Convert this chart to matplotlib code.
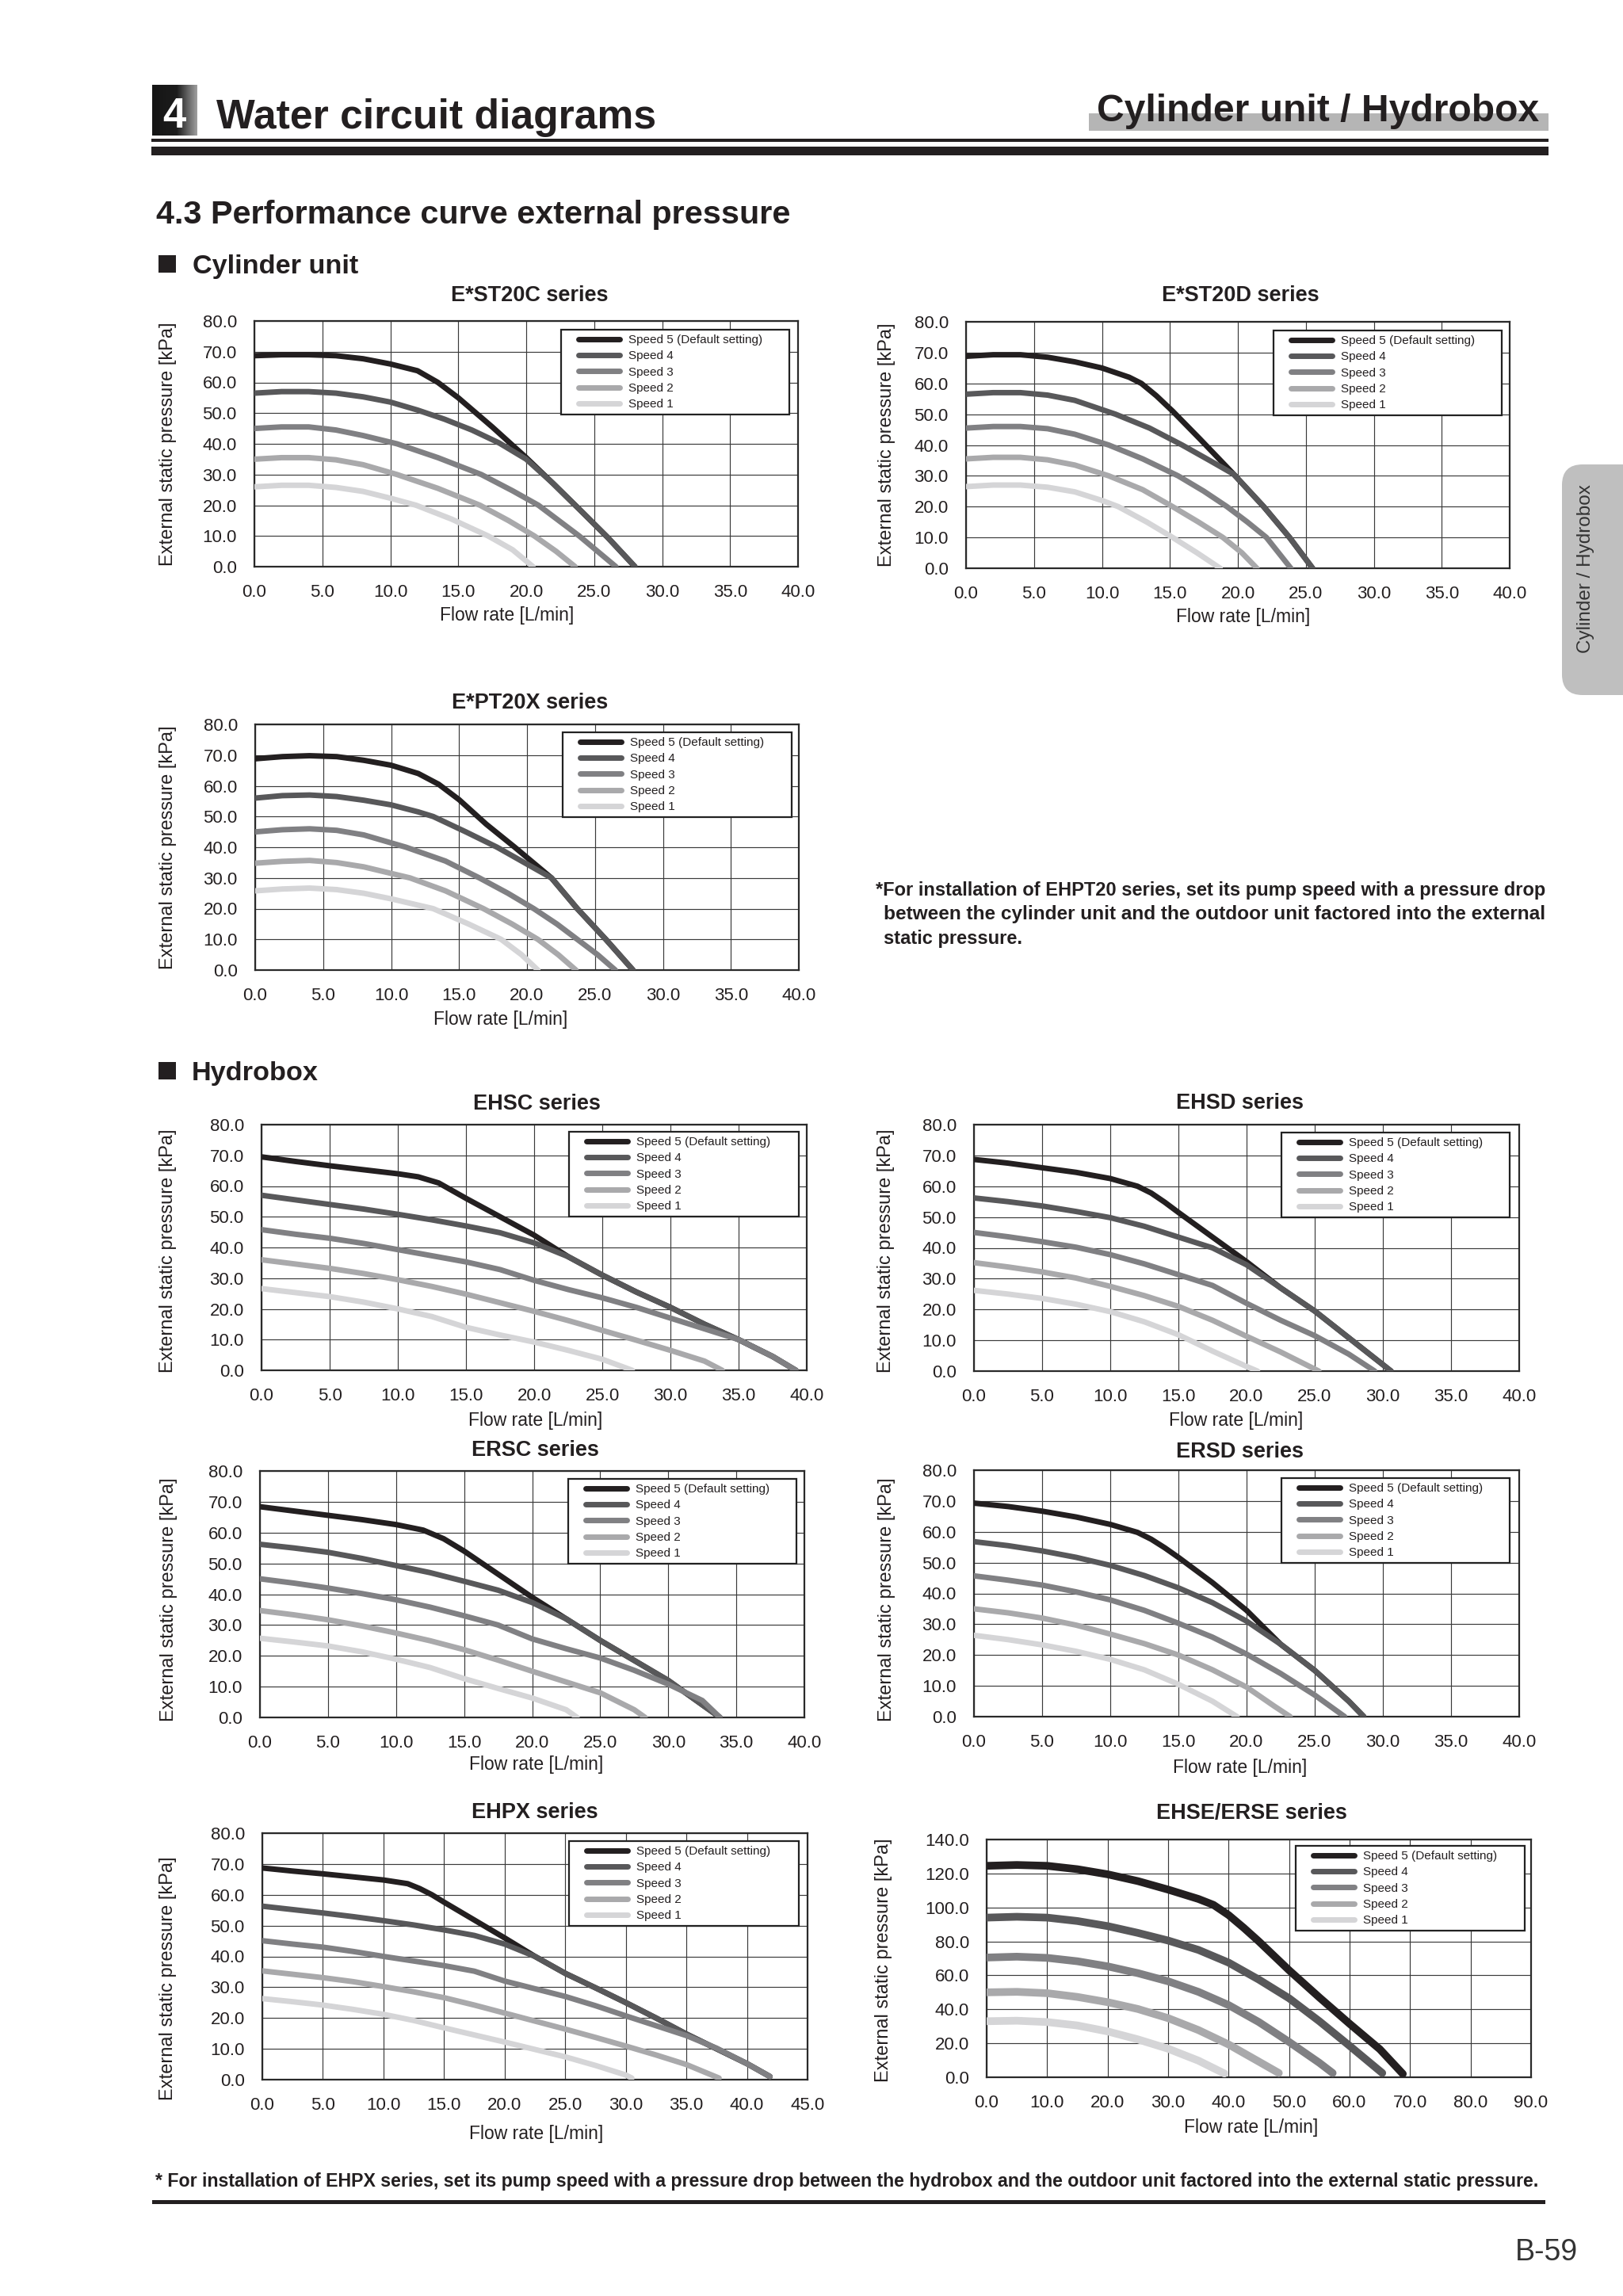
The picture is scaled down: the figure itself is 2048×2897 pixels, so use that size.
import numpy as np
import matplotlib
matplotlib.use("Agg")
import matplotlib.pyplot as plt
from matplotlib.patches import Rectangle, FancyBboxPatch
from matplotlib.colors import LinearSegmentedColormap
from matplotlib.ticker import FormatStrFormatter

plt.rcParams['font.family'] = ['Liberation Sans', 'DejaVu Sans']

# ---------------------------------------------------------------- data
SPEED_LABELS = ["Speed 5 (Default setting)", "Speed 4", "Speed 3", "Speed 2", "Speed 1"]
TITLES = ["E*ST20C series", "E*ST20D series", "E*PT20X series", "EHSC series", "EHSD series",
          "ERSC series", "ERSD series", "EHPX series", "EHSE/ERSE series"]
X_TICKS_40 = [0.0, 5.0, 10.0, 15.0, 20.0, 25.0, 30.0, 35.0, 40.0]
X_TICKS_45 = [0.0, 5.0, 10.0, 15.0, 20.0, 25.0, 30.0, 35.0, 40.0, 45.0]
X_TICKS_90 = [0.0, 10.0, 20.0, 30.0, 40.0, 50.0, 60.0, 70.0, 80.0, 90.0]
Y_TICKS_80 = [0.0, 10.0, 20.0, 30.0, 40.0, 50.0, 60.0, 70.0, 80.0]
Y_TICKS_140 = [0.0, 20.0, 40.0, 60.0, 80.0, 100.0, 120.0, 140.0]
X_LABEL = "Flow rate [L/min]"
Y_LABEL = "External static pressure [kPa]"

# E*ST20C series  (flow q [L/min], pressure p [kPa])
EST20C_Q5 = [0, 2, 4, 6, 8, 10, 12, 13.5, 15, 17.5, 20, 22, 24, 26, 28]
EST20C_P5 = [68.7, 69, 69, 68.7, 67.7, 66, 63.8, 60, 55, 45.5, 35.5, 27, 18.3, 9.5, 0]
EST20C_Q4 = [0, 2, 4, 6, 8, 10, 12, 14, 16, 18, 20, 22, 24, 26, 28]
EST20C_P4 = [56.5, 57, 57, 56.5, 55.3, 53.6, 51, 48, 44.5, 40.3, 35, 27, 18.3, 9.5, 0]
EST20C_Q3 = [0, 2, 4, 6, 8, 10.5, 13.5, 16.7, 19, 20.9, 23.9, 26.6]
EST20C_P3 = [45, 45.5, 45.5, 44.5, 42.7, 40, 35.5, 30, 24.7, 20, 10, 0]
EST20C_Q2 = [0, 2, 4, 6, 8, 10.5, 13.5, 16.6, 18.7, 20.6, 22.2, 23.6]
EST20C_P2 = [35, 35.5, 35.5, 34.8, 33.2, 30, 25.5, 20, 15, 10, 5, 0]
EST20C_Q1 = [0, 2, 4, 6, 8, 10, 11.9, 14.5, 17.2, 19, 20.5]
EST20C_P1 = [26, 26.5, 26.5, 25.8, 24.5, 22.3, 20, 15.5, 10, 5.5, 0]

# E*ST20D series
EST20D_Q5 = [0, 2, 4, 6, 8, 10, 12, 12.9, 14, 15.2, 17.2, 19.7, 21.9, 23.8, 25.5]
EST20D_P5 = [68.8, 69.3, 69.3, 68.5, 67, 65, 62, 60, 56, 51, 42, 30.5, 20, 10, 0]
EST20D_Q4 = [0, 2, 4, 6, 8, 11, 13.5, 15.9, 18, 19.7, 21.9, 23.8, 25.5]
EST20D_P4 = [56.5, 57, 57, 56.2, 54.5, 50, 45.5, 40, 34.8, 30.5, 20, 10, 0]
EST20D_Q3 = [0, 2, 4, 6, 8, 10.5, 13, 15.6, 17.5, 19.2, 20.7, 22.1, 23.9]
EST20D_P3 = [45.5, 46, 46, 45.3, 43.5, 40, 35.5, 30, 25, 20, 15, 10, 0]
EST20D_Q2 = [0, 2, 4, 6, 8, 10.5, 13, 15.2, 17.1, 18.9, 20.3, 21.4]
EST20D_P2 = [35.5, 36, 36, 35.2, 33.5, 30, 25.5, 20, 15, 10, 5, 0]
EST20D_Q1 = [0, 2, 4, 6, 8, 10, 11.2, 13.3, 15.2, 17, 18.7]
EST20D_P1 = [26.5, 27, 27, 26.3, 24.8, 22, 20, 15, 10, 5, 0]

# E*PT20X series
EPT20X_Q5 = [0, 2, 4, 6, 8, 10, 12, 13.5, 15, 17, 19.1, 21.8, 23.7, 25.8, 27.8]
EPT20X_P5 = [68.8, 69.5, 69.8, 69.5, 68.3, 66.7, 64, 60.5, 55.5, 47.5, 40, 30, 20, 10, 0]
EPT20X_Q4 = [0, 2, 4, 6, 8, 10, 12, 13.1, 15.5, 17.8, 20, 21.8, 23.7, 25.8, 27.8]
EPT20X_P4 = [56, 56.8, 57, 56.5, 55.3, 53.8, 51.5, 50, 45, 40, 34.5, 30, 20, 10, 0]
EPT20X_Q3 = [0, 2, 4, 6, 8, 11.1, 14, 16.5, 18.6, 20.5, 22.2, 23.7, 25.2, 26.5]
EPT20X_P3 = [45, 45.7, 46, 45.5, 44, 40, 35.5, 30, 25, 20, 15, 10, 5, 0]
EPT20X_Q2 = [0, 2, 4, 6, 8, 11.4, 14, 16.8, 18.9, 20.8, 22.3, 23.6]
EPT20X_P2 = [34.8, 35.4, 35.7, 35, 33.6, 30, 25.8, 20, 15, 10, 5, 0]
EPT20X_Q1 = [0, 2, 4, 6, 8, 10, 13.1, 15.7, 18.1, 19.6, 20.8]
EPT20X_P1 = [25.8, 26.4, 26.7, 26.2, 25, 23.2, 20, 15, 10, 5, 0]

# EHSC series
EHSC_Q5 = [0, 2.5, 5, 7.5, 10, 11.5, 13, 14, 15, 17.5, 20, 22.5, 25, 27.5, 30, 32.5, 35, 37.5, 39.2]
EHSC_P5 = [69.5, 68, 66.6, 65.3, 64, 63, 61, 58.5, 56, 50, 44, 37, 31, 25.5, 20.5, 15, 10, 4.5, 0]
EHSC_Q4 = [0, 2.5, 5, 7.5, 10, 12.5, 15, 17.5, 20, 22.5, 25, 27.5, 30, 32.5, 35, 37.5, 39.2]
EHSC_P4 = [57, 55.5, 54, 52.5, 50.8, 49, 47, 44.8, 41.5, 37, 31, 25.5, 20.5, 15, 10, 4.5, 0]
EHSC_Q3 = [0, 2.5, 5, 7.5, 10, 12.5, 15, 17.5, 20, 22.5, 25, 27.5, 30, 32.5, 35, 37.5, 39.2]
EHSC_P3 = [45.8, 44.3, 43, 41.3, 39.3, 37.3, 35.3, 32.8, 29.3, 26.3, 23.6, 20.5, 17, 13.5, 10, 4.5, 0]
EHSC_Q2 = [0, 2.5, 5, 7.5, 10, 12.5, 15, 17.5, 20, 22.5, 25, 27.5, 30, 32.5, 33.8]
EHSC_P2 = [36, 34.6, 33.2, 31.5, 29.5, 27.3, 24.8, 22, 19.2, 16.2, 13, 9.8, 6.5, 3, 0]
EHSC_Q1 = [0, 2.5, 5, 7.5, 10, 12.5, 15, 17.5, 20, 22.5, 25, 27.2]
EHSC_P1 = [26.6, 25.3, 24, 22.2, 20, 17.5, 14, 11.5, 9.2, 6.5, 3.6, 0]

# EHSD series
EHSD_Q5 = [0, 2.5, 5, 7.5, 10, 12, 13, 14, 15, 17.5, 20, 22.5, 25, 27.5, 30.6]
EHSD_P5 = [68.7, 67.5, 66, 64.5, 62.5, 60, 57.8, 54.8, 51.5, 43.5, 35.5, 27, 19.5, 10.8, 0]
EHSD_Q4 = [0, 2.5, 5, 7.5, 10, 12.5, 15, 17.5, 20, 22.5, 25, 27.5, 30.6]
EHSD_P4 = [56.2, 55, 53.6, 51.8, 49.8, 47, 43.5, 40, 34.5, 27, 19.5, 10.8, 0]
EHSD_Q3 = [0, 2.5, 5, 7.5, 10, 12.5, 15, 17.5, 20, 22.5, 25, 27.5, 29.4]
EHSD_P3 = [45, 43.6, 42, 40.2, 37.8, 34.8, 31.3, 27.8, 22, 16.5, 11.5, 5.5, 0]
EHSD_Q2 = [0, 2.5, 5, 7.5, 10, 12.5, 15, 17.5, 20, 22.5, 25.3]
EHSD_P2 = [35.2, 33.8, 32.2, 30.2, 27.5, 24.5, 21, 16.5, 11.3, 6.2, 0]
EHSD_Q1 = [0, 2.5, 5, 7.5, 10, 12.5, 15, 17.5, 20, 20.8]
EHSD_P1 = [26.2, 25, 23.6, 21.7, 19.3, 16, 11.8, 6.5, 1.5, 0]

# ERSC series
ERSC_Q5 = [0, 2.5, 5, 7.5, 10, 12, 13.5, 15, 17.5, 20, 22.5, 25, 27.5, 30, 33.8]
ERSC_P5 = [68.4, 67, 65.6, 64.2, 62.6, 60.8, 58, 54, 46.5, 39, 32, 25, 18.5, 12, 0]
ERSC_Q4 = [0, 2.5, 5, 7.5, 10, 12.5, 15, 17.5, 20, 22.5, 25, 27.5, 30, 33.8]
ERSC_P4 = [56.2, 55, 53.6, 51.6, 49.3, 47, 44.2, 41.3, 37.3, 32, 25, 18.5, 12, 0]
ERSC_Q3 = [0, 2.5, 5, 7.5, 10, 12.5, 15, 17.5, 20, 22.5, 25, 27.5, 30, 32.5, 33.8]
ERSC_P3 = [45, 43.6, 42, 40.2, 38.2, 35.8, 33, 30, 25.5, 22.3, 19.3, 15.3, 10.8, 5.5, 0]
ERSC_Q2 = [0, 2.5, 5, 7.5, 10, 12.5, 15, 17.5, 20, 22.5, 25, 27.5, 28.3]
ERSC_P2 = [34.7, 33.3, 31.7, 29.7, 27.4, 24.9, 22, 18.6, 15, 11.5, 8, 2.5, 0]
ERSC_Q1 = [0, 2.5, 5, 7.5, 10, 12.5, 15, 17.5, 20, 22.5, 23.3]
ERSC_P1 = [25.7, 24.5, 23.2, 21.3, 18.9, 16.2, 12.6, 9.4, 6.3, 2.5, 0]

# ERSD series
ERSD_Q5 = [0, 2.5, 5, 7.5, 10, 12, 13, 14, 15, 17.5, 20, 22.5, 25, 27.5, 28.6]
ERSD_P5 = [69.3, 68.2, 66.7, 64.8, 62.4, 59.8, 57.6, 54.8, 51.7, 43.5, 34.5, 23.5, 15, 5, 0]
ERSD_Q4 = [0, 2.5, 5, 7.5, 10, 12.5, 15, 17.5, 20, 22.5, 25, 27.5, 28.6]
ERSD_P4 = [56.8, 55.5, 53.8, 51.7, 49.1, 45.8, 41.8, 37, 31, 23.5, 15, 5, 0]
ERSD_Q3 = [0, 2.5, 5, 7.5, 10, 12.5, 15, 17.5, 20, 22.5, 25, 27.2]
ERSD_P3 = [45.7, 44.3, 42.7, 40.5, 37.9, 34.5, 30.3, 25.8, 20.3, 14, 7, 0]
ERSD_Q2 = [0, 2.5, 5, 7.5, 10, 12.5, 15, 17.5, 20, 22, 23.2]
ERSD_P2 = [35, 33.7, 32, 29.7, 26.8, 23.7, 20, 15.2, 9.6, 3.5, 0]
ERSD_Q1 = [0, 2.5, 5, 7.5, 10, 12.5, 15, 17.5, 19.3]
ERSD_P1 = [26.4, 25, 23.3, 21.2, 18.6, 15.2, 10.5, 5, 0]

# EHPX series
EHPX_Q5 = [0, 2.5, 5, 7.5, 10, 12, 13, 14, 15, 17.5, 20, 22.5, 25, 27.5, 30, 32.5, 35, 37.5, 40, 41.9]
EHPX_P5 = [68.7, 67.7, 66.8, 65.8, 64.8, 63.6, 62, 60, 57.6, 51.8, 46, 40, 34.5, 29.8, 25, 20, 14.8, 10, 5.2, 1]
EHPX_Q4 = [0, 2.5, 5, 7.5, 10, 12.5, 15, 17.5, 20, 22.5, 25, 27.5, 30, 32.5, 35, 37.5, 40, 41.9]
EHPX_P4 = [56.3, 55.2, 54.1, 52.9, 51.6, 50.2, 48.6, 46.8, 44, 40, 34.5, 29.8, 25, 20, 14.8, 10, 5.2, 1]
EHPX_Q3 = [0, 2.5, 5, 7.5, 10, 12.5, 15, 17.5, 20, 22.5, 25, 27.5, 30, 32.5, 35, 37.5, 40, 41.9]
EHPX_P3 = [45.1, 44, 43, 41.6, 40, 38.5, 37, 35.2, 32, 29.5, 27, 24, 20.7, 17.5, 14.3, 10.2, 5.2, 1]
EHPX_Q2 = [0, 2.5, 5, 7.5, 10, 12.5, 15, 17.5, 20, 22.5, 25, 27.5, 30, 32.5, 35, 37.7]
EHPX_P2 = [35.3, 34.2, 33.1, 31.8, 30.2, 28.5, 26.6, 24.2, 21.6, 19, 16.4, 13.7, 10.9, 8, 4.9, 0.5]
EHPX_Q1 = [0, 2.5, 5, 7.5, 10, 12.5, 15, 17.5, 20, 22.5, 25, 27.5, 30, 30.5]
EHPX_P1 = [26.3, 25.3, 24.2, 22.8, 21.2, 19.2, 16.8, 14.5, 12.2, 9.8, 7.4, 4.6, 1.5, 0.5]

# EHSE/ERSE series
EHSE_Q5 = [0, 5, 10, 15, 20, 25, 30, 35, 37.5, 40, 42.5, 45, 50, 55, 60, 65, 68.8]
EHSE_P5 = [124.5, 125, 124.5, 122.5, 119.5, 115.5, 110.5, 105, 101.5, 95.5, 88, 80, 63, 47, 31.5, 16.5, 2]
EHSE_Q4 = [0, 5, 10, 15, 20, 25, 30, 35, 40, 45, 50, 55, 60, 65.4]
EHSE_P4 = [94, 94.5, 94, 92, 89, 85, 80.5, 75, 67.5, 57.5, 46.5, 33, 18.5, 2.5]
EHSE_Q3 = [0, 5, 10, 15, 20, 25, 30, 35, 40, 45, 50, 55, 57.2]
EHSE_P3 = [70.5, 71, 70.3, 68.3, 65.3, 61.3, 56.5, 50.3, 42.5, 32.5, 20.8, 8.5, 2.5]
EHSE_Q2 = [0, 5, 10, 15, 20, 25, 30, 35, 40, 45, 48.3]
EHSE_P2 = [50, 50.3, 49.5, 47.3, 44.2, 40.2, 34.8, 27.8, 19.3, 9.2, 2.5]
EHSE_Q1 = [0, 5, 10, 15, 20, 25, 30, 35, 39.3]
EHSE_P1 = [33, 33.3, 32.5, 30.5, 27, 22.3, 16.8, 9.8, 2.2]

NOTE_CYL = ["*For installation of EHPT20 series, set its pump speed with a pressure drop",
            "between the cylinder unit and the outdoor unit factored into the external",
            "static pressure."]
NOTE_FOOT = ("* For installation of EHPX series, set its pump speed with a pressure drop between "
             "the hydrobox and the outdoor unit factored into the external static pressure.")

CHARTS = [
    (EST20C_Q5, EST20C_P5, EST20C_Q4, EST20C_P4, EST20C_Q3, EST20C_P3, EST20C_Q2, EST20C_P2, EST20C_Q1, EST20C_P1),
    (EST20D_Q5, EST20D_P5, EST20D_Q4, EST20D_P4, EST20D_Q3, EST20D_P3, EST20D_Q2, EST20D_P2, EST20D_Q1, EST20D_P1),
    (EPT20X_Q5, EPT20X_P5, EPT20X_Q4, EPT20X_P4, EPT20X_Q3, EPT20X_P3, EPT20X_Q2, EPT20X_P2, EPT20X_Q1, EPT20X_P1),
    (EHSC_Q5, EHSC_P5, EHSC_Q4, EHSC_P4, EHSC_Q3, EHSC_P3, EHSC_Q2, EHSC_P2, EHSC_Q1, EHSC_P1),
    (EHSD_Q5, EHSD_P5, EHSD_Q4, EHSD_P4, EHSD_Q3, EHSD_P3, EHSD_Q2, EHSD_P2, EHSD_Q1, EHSD_P1),
    (ERSC_Q5, ERSC_P5, ERSC_Q4, ERSC_P4, ERSC_Q3, ERSC_P3, ERSC_Q2, ERSC_P2, ERSC_Q1, ERSC_P1),
    (ERSD_Q5, ERSD_P5, ERSD_Q4, ERSD_P4, ERSD_Q3, ERSD_P3, ERSD_Q2, ERSD_P2, ERSD_Q1, ERSD_P1),
    (EHPX_Q5, EHPX_P5, EHPX_Q4, EHPX_P4, EHPX_Q3, EHPX_P3, EHPX_Q2, EHPX_P2, EHPX_Q1, EHPX_P1),
    (EHSE_Q5, EHSE_P5, EHSE_Q4, EHSE_P4, EHSE_Q3, EHSE_P3, EHSE_Q2, EHSE_P2, EHSE_Q1, EHSE_P1),
]
X_TICKS = [X_TICKS_40] * 7 + [X_TICKS_45, X_TICKS_90]
Y_TICKS = [Y_TICKS_80] * 8 + [Y_TICKS_140]

# ---------------------------------------------------------------- layout (pixels)
W, H = 2048, 2897
SPEED_COLORS = ['#231f20', '#58585a', '#808083', '#a9a9ab', '#d5d5d7']
TEXT = '#231f20'

# axes (l, t, r, b), title (x, y), xlabel (x, y), ylabel (x, y), legend (x0, top, x1)
LAYOUT = [
    ((321, 405, 1007, 715), (668, 373), (640, 777), (212, 560), (708, 416, 996)),
    ((1219, 406, 1905, 717), (1565, 373), (1569, 779), (1119, 561), (1607, 417, 1895)),
    ((322, 914, 1008, 1224), (669, 887), (632, 1286), (212, 1069), (710, 924, 999)),
    ((330, 1419, 1018, 1729), (677, 1393), (676, 1792), (212, 1578), (718, 1428, 1008)),
    ((1229, 1419, 1917, 1730), (1564, 1392), (1560, 1792), (1118, 1578), (1617, 1429, 1905)),
    ((328, 1856, 1015, 2167), (675, 1830), (677, 2226), (213, 2018), (717, 1866, 1005)),
    ((1229, 1855, 1917, 2166), (1564, 1832), (1565, 2230), (1119, 2018), (1617, 1865, 1905)),
    ((331, 2313, 1019, 2624), (675, 2287), (677, 2692), (212, 2496), (718, 2323, 1008)),
    ((1245, 2321, 1932, 2621), (1579, 2288), (1579, 2685), (1115, 2473), (1635, 2329, 1924)),
]

fig = plt.figure(figsize=(W / 100, H / 100), dpi=100)
fig.patch.set_facecolor('white')

ov = fig.add_axes([0, 0, 1, 1])
ov.set_zorder(0)
ov.axis('off')

def add_rect(x, y, w, h, color):
    ov.add_patch(Rectangle((x, y), w, h, facecolor=color, edgecolor='none'))

# header
grad = np.linspace(0, 1, 200).reshape(1, -1)
cmap = LinearSegmentedColormap.from_list('hdr', [(0, '#151515'), (0.55, '#1c1c1c'), (1, '#a0a0a0')])
ov.imshow(grad, extent=(192, 249, 171, 107), cmap=cmap, aspect='auto', interpolation='bicubic')
ov.text(220, 161, '4', color='white', fontsize=38, fontweight='bold', ha='center', va='baseline')
ov.text(273, 162, 'Water circuit diagrams', color=TEXT, fontsize=37.2, fontweight='bold', va='baseline')
add_rect(1374, 143, 580, 22, '#b5b5b5')
ov.text(1942, 153, 'Cylinder unit / Hydrobox', color=TEXT, fontsize=34.6, fontweight='bold',
        ha='right', va='baseline')
add_rect(191, 175, 1763, 4, TEXT)
add_rect(191, 185, 1763, 11, TEXT)

ov.text(197, 282, '4.3 Performance curve external pressure', color=TEXT, fontsize=29.8,
        fontweight='bold', va='baseline')
add_rect(200, 322, 22, 22, TEXT)
ov.text(243, 345, 'Cylinder unit', color=TEXT, fontsize=24.7, fontweight='bold', va='baseline')
add_rect(200, 1340, 22, 22, TEXT)
ov.text(242, 1363, 'Hydrobox', color=TEXT, fontsize=24.7, fontweight='bold', va='baseline')

# side tab
ov.add_patch(FancyBboxPatch((1971, 586), 140, 291, boxstyle='round,pad=0,rounding_size=26',
                            facecolor='#bfbfbf', edgecolor='none'))
ov.text(2001, 718, 'Cylinder / Hydrobox', rotation=90, ha='center', va='center',
        fontsize=17.5, color='#333333')

# page number and bottom rule
ov.text(1991, 2852, 'B-59', ha='right', va='baseline', fontsize=27, color='#333333')
add_rect(192, 2776, 1758, 5, TEXT)

ov.set_xlim(0, W)
ov.set_ylim(H, 0)

renderer = fig.canvas.get_renderer()

def fit_text(x0, x1, y, s, size):
    t = ov.text(x0, y, s, fontsize=size, fontweight='bold', color=TEXT, ha='left', va='baseline')
    for _ in range(3):
        w = t.get_window_extent(renderer).width
        t.set_fontsize(t.get_fontsize() * (x1 - x0) / w)
    return t

t1 = fit_text(1105, 1950, 1130, NOTE_CYL[0], 14)
fit_text(1115, 1950, 1160, NOTE_CYL[1], 14)
ov.text(1115, 1191, NOTE_CYL[2], fontsize=t1.get_fontsize(), fontweight='bold', color=TEXT,
        va='baseline')
fit_text(196, 1946, 2759, NOTE_FOOT, 14)

# ---------------------------------------------------------------- charts
for i, series in enumerate(CHARTS):
    (l, t, r, b), (tx, ty), (xlx, xly), (ylx, yly), (lx0, lt, lx1) = LAYOUT[i]
    aw, ah = r - l, b - t
    ax = fig.add_axes([l / W, 1 - b / H, aw / W, ah / H])
    ax.set_zorder(2)
    lw = 7.0 if i == 8 else 5.0
    for k in range(5):
        ax.plot(series[2 * k], series[2 * k + 1], color=SPEED_COLORS[k], lw=lw,
                solid_capstyle='round', solid_joinstyle='round', label=SPEED_LABELS[k], zorder=3 + k)
    xt, yt = X_TICKS[i], Y_TICKS[i]
    ax.set_xlim(xt[0], xt[-1])
    ax.set_ylim(yt[0], yt[-1])
    ax.set_xticks(xt)
    ax.set_yticks(yt)
    ax.xaxis.set_major_formatter(FormatStrFormatter('%.1f'))
    ax.yaxis.set_major_formatter(FormatStrFormatter('%.1f'))
    ax.set_axisbelow(True)
    ax.grid(True, color='#3a3a3a', lw=0.85)
    ax.tick_params(length=0, labelsize=16, labelcolor=TEXT)
    ax.tick_params(axis='x', pad=15.5)
    ax.tick_params(axis='y', pad=16)
    for sp in ax.spines.values():
        sp.set_linewidth(1.6)
        sp.set_color('#2a2a2a')
    ax.set_xlabel(X_LABEL, fontsize=16.5, color=TEXT)
    ax.xaxis.set_label_coords((xlx - l) / aw, (b - xly) / ah)
    ax.xaxis.label.set_va('center')
    ax.set_ylabel(Y_LABEL, fontsize=17, color=TEXT)
    ax.yaxis.set_label_coords((ylx - l) / aw, (b - yly) / ah)
    ax.yaxis.label.set_va('center')
    ov.text(tx, ty, TITLES[i], ha='center', va='center', fontsize=19.5, fontweight='bold', color=TEXT)

    leg = ax.legend(loc='upper left', bbox_to_anchor=((lx0 - l) / aw, 0, (lx1 - lx0) / aw, (b - lt) / ah),
                    mode='expand', borderaxespad=0, fontsize=11, handlelength=4.45,
                    handletextpad=0.72, borderpad=0.4, labelspacing=0.41, frameon=True,
                    fancybox=False, framealpha=1, edgecolor='#222222')
    leg.get_frame().set_linewidth(1.6)
    for txt in leg.get_texts():
        txt.set_color(TEXT)
    for ln in leg.get_lines():
        ln.set_linewidth(5.0)
        xd = np.asarray(ln.get_xdata(), dtype=float)
        n = len(np.atleast_1d(ln.get_ydata()))
        ln.set_xdata(np.linspace(xd[0] + 0.235 * (xd[-1] - xd[0]), xd[-1], n))

fig.savefig('out.png', dpi=100, facecolor='white')
